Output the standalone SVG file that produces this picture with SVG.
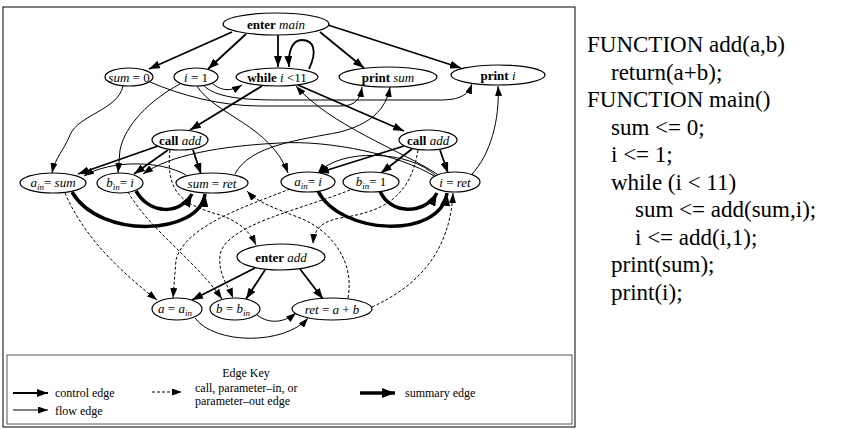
<svg xmlns="http://www.w3.org/2000/svg" width="858" height="429" viewBox="0 0 858 429">
<style>
.n ellipse{fill:#fff;stroke:#000;stroke-width:1.2}
.t{font-family:"Liberation Serif","Times New Roman",serif;font-size:13px;fill:#000}
.b{font-weight:bold;font-style:normal}
.i{font-style:italic}
.s{font-size:9px;font-style:italic}
.c{fill:none;stroke:#000;stroke-width:1.8}
.f{fill:none;stroke:#000;stroke-width:1}
.p{fill:none;stroke:#000;stroke-width:1;stroke-dasharray:3,2}
.y{fill:none;stroke:#000;stroke-width:3.5}
.code{font-family:"Liberation Serif","Times New Roman",serif;font-size:23px;fill:#000}
.lg{font-family:"Liberation Serif","Times New Roman",serif;font-size:12px;fill:#000}
</style>
<defs>
<marker id="aC" markerUnits="userSpaceOnUse" markerWidth="11" markerHeight="8" refX="11" refY="4" orient="auto"><path d="M0,0 L11,4 L0,8 z" fill="#000"/></marker>
<marker id="aF" markerUnits="userSpaceOnUse" markerWidth="10" markerHeight="7" refX="10" refY="3.5" orient="auto"><path d="M0,0 L10,3.5 L0,7 z" fill="#000"/></marker>
<marker id="aS" markerUnits="userSpaceOnUse" markerWidth="13" markerHeight="10" refX="13" refY="5" orient="auto"><path d="M0,0 L13,5 L0,10 z" fill="#000"/></marker>
</defs>
<rect x="3" y="7" width="572" height="420" fill="#fff" stroke="#000" stroke-width="1"/>

<g id="connectors">
<!-- control edges -->
<path class="c" marker-end="url(#aC)" d="M232,32 L149,69"/>
<path class="c" marker-end="url(#aC)" d="M246,34 L208,69"/>
<path class="c" marker-end="url(#aC)" d="M278,35 L278,67"/>
<path class="c" marker-end="url(#aC)" d="M309,69 C318,50 313,40 302,40 C292,40 288,52 289,67"/>
<path class="c" marker-end="url(#aC)" d="M320,32 L364,68"/>
<path class="c" marker-end="url(#aC)" d="M328,25 L461,68"/>
<path class="c" marker-end="url(#aC)" d="M298,85 L404,131"/>
<path class="c" marker-end="url(#aC)" d="M262,86 L190,130"/>
<path class="c" marker-end="url(#aC)" d="M158,146 L78,174"/>
<path class="c" marker-end="url(#aC)" d="M168,150 L134,174"/>
<path class="c" marker-end="url(#aC)" d="M193,150 L201,174"/>
<path class="c" marker-end="url(#aC)" d="M404,146 L318,173"/>
<path class="c" marker-end="url(#aC)" d="M412,149 L381,173"/>
<path class="c" marker-end="url(#aC)" d="M440,150 L448,173"/>
<path class="c" marker-end="url(#aC)" d="M255,268 L192,300"/>
<path class="c" marker-end="url(#aC)" d="M265,270 L246,299"/>
<path class="c" marker-end="url(#aC)" d="M300,269 L323,299"/>
<!-- flow edges -->
<path class="f" marker-end="url(#aF)" d="M212,83 C222,92 232,91 242,85"/>
<path class="f" marker-end="url(#aF)" d="M123,86 C118,110 78,115 70,135 C64,150 55,158 52,173"/>
<path class="f" marker-end="url(#aF)" d="M150,82 C180,95 220,106 260,106 L340,106 C355,106 360,100 362,87"/>
<path class="f" marker-end="url(#aF)" d="M203,85 C215,97 240,100 280,100 L440,100 C460,100 468,95 472,84"/>
<path class="f" marker-end="url(#aF)" d="M180,84 C150,100 125,125 120,150 L118,173"/>
<path class="f" marker-end="url(#aF)" d="M197,86 C215,115 270,125 288,173"/>
<path class="f" marker-end="url(#aF)" d="M186,175 C160,160 110,160 84,176"/>
<path class="f" marker-end="url(#aF)" d="M235,174 C250,145 300,140 340,132 C370,124 386,110 390,87"/>
<path class="f" marker-end="url(#aF)" d="M472,174 C490,155 500,120 498,86"/>
<path class="f" marker-end="url(#aF)" d="M437,174 C400,150 330,125 296,86"/>
<path class="f" marker-end="url(#aF)" d="M434,176 C400,155 330,140 280,143 C220,146 170,155 143,174"/>
<path class="f" marker-end="url(#aF)" d="M436,176 C410,150 340,148 318,173"/>
<path class="f" marker-end="url(#aF)" d="M195,318 C215,345 285,345 308,318"/>
<path class="f" marker-end="url(#aF)" d="M257,315 C270,325 285,322 296,313"/>
<!-- summary edges -->
<path class="y" marker-end="url(#aS)" d="M136,191 C150,215 180,215 192,194"/>
<path class="y" marker-end="url(#aS)" d="M72,192 C100,240 200,235 205,194"/>
<path class="y" marker-end="url(#aS)" d="M380,191 C390,215 425,215 437,193"/>
<path class="y" marker-end="url(#aS)" d="M318,191 C340,235 440,240 447,193"/>
<!-- call / parameter edges -->
<path class="p" marker-end="url(#aF)" d="M170,150 C165,195 185,205 220,215 C240,222 250,232 256,245"/>
<path class="p" marker-end="url(#aF)" d="M418,150 C410,200 380,212 340,218 C320,222 314,230 313,244"/>
<path class="p" marker-end="url(#aF)" d="M65,193 C85,240 125,275 157,300"/>
<path class="p" marker-end="url(#aF)" d="M128,192 C150,230 195,260 222,299"/>
<path class="p" marker-end="url(#aF)" d="M290,189 C250,205 185,225 176,260 L173,298"/>
<path class="p" marker-end="url(#aF)" d="M350,190 C300,210 225,225 220,255 C218,275 228,285 233,298"/>
<path class="p" marker-end="url(#aF)" d="M348,298 C355,260 330,230 300,218 C275,208 258,203 247,191"/>
<path class="p" marker-end="url(#aF)" d="M372,307 C420,285 450,250 453,193"/>
</g>

<g id="enter-main" class="n"><ellipse cx="276" cy="24" rx="53" ry="11"/><text class="t" x="276" y="28.5" text-anchor="middle"><tspan class="b">enter</tspan> <tspan class="i">main</tspan></text></g>
<g id="sum0" class="n"><ellipse cx="129" cy="77" rx="24" ry="9"/><text class="t" x="129" y="81.5" text-anchor="middle"><tspan class="i">sum</tspan> = 0</text></g>
<g id="i1" class="n"><ellipse cx="196" cy="77" rx="22" ry="9"/><text class="t" x="196" y="81.5" text-anchor="middle"><tspan class="i">i</tspan> = 1</text></g>
<g id="while" class="n"><ellipse cx="277" cy="77" rx="41" ry="9"/><text class="t" x="277" y="81.5" text-anchor="middle"><tspan class="b">while</tspan> <tspan class="i">i</tspan> &lt;11</text></g>
<g id="print-sum" class="n"><ellipse cx="388" cy="77" rx="49" ry="10"/><text class="t" x="388" y="81.5" text-anchor="middle"><tspan class="b">print</tspan> <tspan class="i">sum</tspan></text></g>
<g id="print-i" class="n"><ellipse cx="498" cy="75" rx="47" ry="10"/><text class="t" x="498" y="79.5" text-anchor="middle"><tspan class="b">print</tspan>  <tspan class="i">i</tspan></text></g>
<g id="call-add-1" class="n"><ellipse cx="180" cy="140" rx="28" ry="10"/><text class="t" x="180" y="144.5" text-anchor="middle"><tspan class="b">call</tspan> <tspan class="i">add</tspan></text></g>
<g id="call-add-2" class="n"><ellipse cx="428" cy="140" rx="29" ry="10"/><text class="t" x="428" y="144.5" text-anchor="middle"><tspan class="b">call</tspan> <tspan class="i">add</tspan></text></g>
<g id="ain-sum" class="n"><ellipse cx="53" cy="183" rx="33" ry="10"/><text class="t" x="53" y="187" text-anchor="middle"><tspan class="i">a</tspan><tspan class="s" dy="3">in</tspan><tspan dy="-3">= </tspan><tspan class="i">sum</tspan></text></g>
<g id="bin-i" class="n"><ellipse cx="120" cy="183" rx="23" ry="10"/><text class="t" x="120" y="187" text-anchor="middle"><tspan class="i">b</tspan><tspan class="s" dy="3">in</tspan><tspan dy="-3">= </tspan><tspan class="i">i</tspan></text></g>
<g id="sum-ret" class="n"><ellipse cx="212" cy="183" rx="36" ry="10"/><text class="t" x="212" y="187.5" text-anchor="middle"><tspan class="i">sum</tspan> = <tspan class="i">ret</tspan></text></g>
<g id="ain-i" class="n"><ellipse cx="308" cy="182" rx="27" ry="10"/><text class="t" x="308" y="186" text-anchor="middle"><tspan class="i">a</tspan><tspan class="s" dy="3">in</tspan><tspan dy="-3">= </tspan><tspan class="i">i</tspan></text></g>
<g id="bin-1" class="n"><ellipse cx="371" cy="182" rx="28" ry="10"/><text class="t" x="371" y="186" text-anchor="middle"><tspan class="i">b</tspan><tspan class="s" dy="3">in</tspan><tspan dy="-3">= 1</tspan></text></g>
<g id="i-ret" class="n"><ellipse cx="455" cy="182" rx="25" ry="10"/><text class="t" x="455" y="186.5" text-anchor="middle"><tspan class="i">i</tspan> = <tspan class="i">ret</tspan></text></g>
<g id="enter-add" class="n"><ellipse cx="281" cy="257" rx="44" ry="13"/><text class="t" x="281" y="261.5" text-anchor="middle"><tspan class="b">enter</tspan> <tspan class="i">add</tspan></text></g>
<g id="a-ain" class="n"><ellipse cx="177" cy="309" rx="25" ry="11"/><text class="t" x="175" y="312.5" text-anchor="middle"><tspan class="i">a</tspan> = <tspan class="i">a</tspan><tspan class="s" dy="3">in</tspan></text></g>
<g id="b-bin" class="n"><ellipse cx="235" cy="309" rx="25" ry="11"/><text class="t" x="233" y="312.5" text-anchor="middle"><tspan class="i">b</tspan> = <tspan class="i">b</tspan><tspan class="s" dy="3">in</tspan></text></g>
<g id="ret" class="n"><ellipse cx="332" cy="309" rx="40" ry="11"/><text class="t" x="332" y="313.5" text-anchor="middle"><tspan class="i">ret</tspan> =  <tspan class="i">a</tspan> + <tspan class="i">b</tspan></text></g>

<g id="legend">
<rect x="7" y="355" width="565" height="69" fill="none" stroke="#555" stroke-width="1"/>
<text class="lg" x="246" y="377" text-anchor="middle">Edge Key</text>
<path class="c" marker-end="url(#aC)" d="M13,393 L48,393"/>
<text class="lg" x="55" y="397">control edge</text>
<path class="f" marker-end="url(#aF)" d="M13,410 L48,410"/>
<text class="lg" x="55" y="415">flow edge</text>
<path class="p" marker-end="url(#aF)" d="M152,392 L182,392"/>
<text class="lg" x="195" y="392">call, parameter–in, or</text>
<text class="lg" x="195" y="405">parameter–out edge</text>
<path class="y" marker-end="url(#aS)" d="M360,393 L395,393"/>
<text class="lg" x="405" y="397">summary edge</text>
</g>

<g id="code">
<text class="code" x="587" y="52">FUNCTION add(a,b)</text>
<text class="code" x="611" y="79.5">return(a+b);</text>
<text class="code" x="587" y="107">FUNCTION main()</text>
<text class="code" x="611" y="134.5">sum &lt;= 0;</text>
<text class="code" x="611" y="162">i &lt;= 1;</text>
<text class="code" x="611" y="189.5">while (i &lt; 11)</text>
<text class="code" x="635" y="217">sum &lt;= add(sum,i);</text>
<text class="code" x="635" y="244.5">i &lt;= add(i,1);</text>
<text class="code" x="611" y="272">print(sum);</text>
<text class="code" x="611" y="299.5">print(i);</text>
</g>
</svg>
